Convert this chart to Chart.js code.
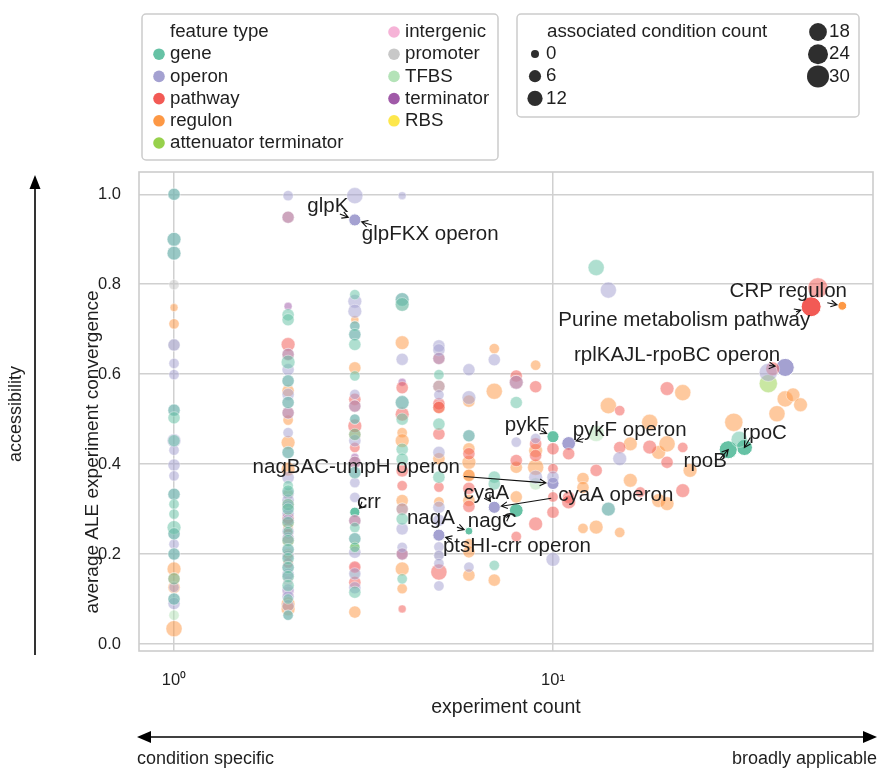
<!DOCTYPE html>
<html lang="en">
<head>
<meta charset="UTF-8">
<title>Feature accessibility vs experiment count</title>
<script src="https://cdn.jsdelivr.net/npm/chart.js"></script>
<style>
  html, body { margin: 0; padding: 0; background: #fff; }
  canvas { display: block; }
</style>
</head>
<body>
<canvas id="featureChart" width="877" height="769"></canvas>
<script>
// feature types in legend order, with their colours
const featureTypes = ['gene', 'operon', 'pathway', 'regulon', 'attenuator terminator',
  'intergenic', 'promoter', 'TFBS', 'terminator', 'RBS'];
const typeColors = ['#66c2a5', '#a4a1d1', '#f25a55', '#fd9845', '#97d14c',
  '#f6b3d7', '#c8c8c8', '#b4e3b8', '#a05aa8', '#fde74c'];

// each point: [experiment count, average ALE experiment convergence, associated condition count]
const genePoints = [
  [1, 1.0, 6], [1, 0.90, 9], [1, 0.869, 9], [1, 0.52, 6], [1, 0.503, 6], [1, 0.452, 6],
  [1, 0.333, 6], [1, 0.311, 3], [1, 0.289, 3], [1, 0.259, 9], [1, 0.245, 6], [1, 0.20, 6],
  [1, 0.145, 6], [1, 0.10, 6],
  [2, 0.732, 6], [2, 0.721, 6], [2, 0.627, 9], [2, 0.585, 6], [2, 0.537, 6], [2, 0.426, 6],
  [2, 0.352, 3], [2, 0.34, 6], [2, 0.31, 6], [2, 0.30, 6], [2, 0.27, 6], [2, 0.25, 3], [2, 0.23, 6],
  [2, 0.21, 6], [2, 0.19, 6], [2, 0.17, 6], [2, 0.15, 6], [2, 0.13, 6], [2, 0.10, 3], [2, 0.064, 3],
  [3, 0.777, 3], [3, 0.707, 3], [3, 0.688, 6], [3, 0.666, 6], [3, 0.596, 3], [3, 0.50, 3],
  [3, 0.466, 6], [3, 0.381, 6], [3, 0.259, 3], [3, 0.234, 6], [3, 0.215, 3], [3, 0.115, 6],
  [4, 0.766, 9], [4, 0.755, 9], [4, 0.537, 9], [4, 0.50, 6], [4, 0.433, 6], [4, 0.411, 6],
  [4, 0.278, 6], [4, 0.145, 3],
  [5, 0.599, 3], [5, 0.489, 6], [5, 0.371, 6],
  [6, 0.463, 6], [7, 0.371, 6], [7, 0.356, 6], [7, 0.175, 3], [8, 0.537, 6],
  [13, 0.837, 14], [14, 0.30, 9], [31, 0.455, 14]
];
const operonPoints = [
  [1, 1.0, 6], [1, 0.90, 9], [1, 0.869, 9], [1, 0.665, 6], [1, 0.624, 3], [1, 0.599, 3],
  [1, 0.52, 6], [1, 0.452, 9], [1, 0.431, 3], [1, 0.398, 6], [1, 0.374, 3], [1, 0.333, 6],
  [1, 0.245, 6], [1, 0.222, 3], [1, 0.20, 6], [1, 0.126, 3], [1, 0.10, 6], [1, 0.09, 6],
  [2, 0.997, 3], [2, 0.949, 6], [2, 0.644, 6], [2, 0.61, 6], [2, 0.585, 6], [2, 0.555, 6],
  [2, 0.537, 6], [2, 0.514, 6], [2, 0.47, 3], [2, 0.426, 6], [2, 0.37, 6], [2, 0.335, 6],
  [2, 0.32, 6], [2, 0.305, 6], [2, 0.29, 6], [2, 0.275, 6], [2, 0.25, 6], [2, 0.235, 6],
  [2, 0.21, 6], [2, 0.195, 6], [2, 0.17, 6], [2, 0.155, 6], [2, 0.12, 6], [2, 0.105, 6],
  [2, 0.085, 6], [2, 0.064, 3],
  [3, 0.997, 14], [3, 0.762, 9], [3, 0.74, 9], [3, 0.707, 3], [3, 0.688, 6], [3, 0.555, 3],
  [3, 0.529, 6], [3, 0.50, 3], [3, 0.452, 6], [3, 0.404, 6], [3, 0.381, 6], [3, 0.359, 3],
  [3, 0.326, 3], [3, 0.274, 6], [3, 0.234, 6], [3, 0.204, 6], [3, 0.156, 6], [3, 0.125, 6],
  [4, 0.997, 0], [4, 0.766, 9], [4, 0.633, 6], [4, 0.537, 9], [4, 0.30, 6], [4, 0.256, 6],
  [4, 0.215, 3], [4, 0.20, 6],
  [5, 0.663, 6], [5, 0.654, 6], [5, 0.635, 6], [5, 0.573, 6], [5, 0.554, 3], [5, 0.426, 6],
  [5, 0.304, 6], [5, 0.275, 6], [5, 0.216, 3], [5, 0.197, 3], [5, 0.179, 3], [5, 0.129, 3],
  [6, 0.61, 6], [6, 0.548, 9], [6, 0.463, 6], [6, 0.171, 3], [7, 0.632, 6],
  [8, 0.582, 9], [8, 0.449, 3], [9, 0.457, 3], [9, 0.371, 9], [10, 0.371, 6], [10, 0.188, 9],
  [14, 0.787, 14], [14, 0.30, 9], [15, 0.412, 9], [37, 0.604, 19]
];
const pathwayPoints = [
  [2, 0.949, 6], [2, 0.666, 9], [2, 0.644, 6], [2, 0.514, 6], [2, 0.28, 6], [2, 0.245, 3],
  [2, 0.18, 3],
  [3, 0.544, 6], [3, 0.529, 6], [3, 0.485, 9], [3, 0.437, 3], [3, 0.404, 6], [3, 0.274, 6],
  [3, 0.171, 6], [3, 0.137, 6],
  [4, 0.57, 6], [4, 0.511, 9], [4, 0.385, 6], [4, 0.352, 3], [4, 0.20, 6], [4, 0.078, 0],
  [5, 0.635, 6], [5, 0.534, 6], [5, 0.526, 6], [5, 0.467, 6], [5, 0.349, 3], [5, 0.16, 14],
  [6, 0.423, 6], [6, 0.346, 6], [6, 0.306, 6],
  [8, 0.596, 6], [8, 0.582, 9], [8, 0.408, 6], [8, 0.239, 3],
  [9, 0.572, 6], [9, 0.445, 6], [9, 0.419, 6], [9, 0.267, 9],
  [10, 0.434, 6], [10, 0.39, 3], [10, 0.327, 3], [10, 0.293, 6],
  [11, 0.423, 6], [11, 0.326, 6], [11, 0.316, 9],
  [13, 0.386, 6], [15, 0.519, 3], [15, 0.437, 6], [17, 0.338, 3], [18, 0.438, 9],
  [20, 0.568, 9], [20, 0.404, 6], [22, 0.437, 3], [22, 0.341, 9], [38, 0.612, 9], [50, 0.792, 24]
];
const regulonPoints = [
  [1, 0.748, 0], [1, 0.712, 3], [1, 0.167, 9], [1, 0.145, 6], [1, 0.126, 6], [1, 0.034, 14],
  [2, 0.563, 6], [2, 0.498, 3], [2, 0.448, 9], [2, 0.389, 9], [2, 0.31, 6], [2, 0.27, 6],
  [2, 0.26, 3], [2, 0.23, 6], [2, 0.20, 3], [2, 0.089, 9], [2, 0.078, 9],
  [3, 0.721, 0], [3, 0.614, 6], [3, 0.466, 6], [3, 0.071, 6],
  [4, 0.67, 9], [4, 0.47, 3], [4, 0.452, 9], [4, 0.319, 6], [4, 0.30, 6], [4, 0.167, 9], [4, 0.123, 3],
  [5, 0.573, 6], [5, 0.526, 6], [5, 0.412, 6], [5, 0.316, 3],
  [6, 0.54, 6], [6, 0.434, 6], [6, 0.404, 9], [6, 0.375, 6], [6, 0.375, 6], [6, 0.319, 6],
  [6, 0.223, 3], [6, 0.205, 6], [6, 0.153, 6],
  [7, 0.657, 3], [7, 0.562, 14], [7, 0.142, 6],
  [8, 0.393, 6], [8, 0.327, 6],
  [9, 0.62, 3], [9, 0.43, 9], [9, 0.393, 14],
  [12, 0.368, 6], [12, 0.348, 6], [12, 0.257, 3], [13, 0.26, 9], [14, 0.53, 14], [15, 0.248, 3],
  [16, 0.445, 9], [16, 0.364, 9], [18, 0.493, 14], [19, 0.426, 9], [19, 0.319, 9], [20, 0.445, 14],
  [20, 0.312, 9], [22, 0.559, 14], [23, 0.386, 9], [30, 0.493, 19], [39, 0.512, 14],
  [41, 0.545, 14], [43, 0.554, 9], [45, 0.532, 9]
];
const attenuatorPoints = [[2, 0.333, 3], [3, 0.215, 3], [37, 0.579, 19]];
const intergenicPoints = [[2, 0.14, 3], [2, 0.115, 6], [3, 0.171, 3], [4, 0.20, 3]];
const promoterPoints = [[1, 0.799, 3], [1, 0.665, 6], [2, 0.15, 6], [2, 0.20, 6], [4, 0.755, 9], [5, 0.197, 3]];
const tfbsPoints = [[1, 0.064, 3], [13, 0.468, 14], [9, 0.356, 6], [3, 0.156, 3]];
const terminatorPoints = [[2, 0.751, 0], [3, 0.415, 0], [4, 0.582, 0]];
const rbsPoints = [[3, 0.22, 0]];
const pointsByType = [genePoints, operonPoints, pathwayPoints, regulonPoints, attenuatorPoints,
  intergenicPoints, promoterPoints, tfbsPoints, terminatorPoints, rbsPoints];

// labelled features, drawn opaque on top
const labeledNames = ['glpK', 'glpFKX operon', 'CRP regulon', 'Purine metabolism pathway',
  'rplKAJL-rpoBC operon', 'pykF', 'pykF operon', 'rpoC', 'rpoB', 'nagBAC-umpH operon',
  'crr', 'cyaA', 'cyaA operon', 'nagA', 'nagC', 'ptsHI-crr operon'];
const labeledTypes = ['gene', 'operon', 'regulon', 'pathway', 'operon', 'gene', 'operon', 'gene',
  'gene', 'operon', 'gene', 'gene', 'operon', 'gene', 'gene', 'operon'];
const labeledExperiments = [3, 3, 58, 48, 41, 10, 11, 32, 29, 10, 3, 7, 7, 6, 8, 5];
const labeledConvergence = [0.943, 0.943, 0.752, 0.75, 0.615, 0.461, 0.446, 0.437, 0.432,
  0.357, 0.293, 0.304, 0.304, 0.251, 0.297, 0.242];
const labeledConditions = [6, 6, 1, 24, 19, 6, 9, 14, 19, 6, 3, 6, 6, 0, 9, 6];

const sizeLegendCounts = [0, 6, 12, 18, 24, 30];
const yTicks = [0, 0.2, 0.4, 0.6, 0.8, 1.0];
const xTicks = [1, 10];
const xTickLabels = ['10\u2070', '10\u00b9'];

// ---- styling / layout ----
const FONT = '"Liberation Sans", Arial, Helvetica, sans-serif';
const TEXT = '#1f1f1f';
const radiusFor = c => Math.sqrt(16 + 3.5 * c);

function rgba(hex, a) {
  const n = parseInt(hex.slice(1), 16);
  return `rgba(${n >> 16}, ${(n >> 8) & 255}, ${n & 255}, ${a})`;
}

// text anchor offset from the point [dx, dy, align], arrow tail offset [tx, ty]
const labelOffsets = {
  'glpK': [-27, -14, 'center', -15, -6],
  'glpFKX operon': [7, 14, 'left', 17, 5],
  'CRP regulon': [-54, -14, 'center', -15, -3],
  'Purine metabolism pathway': [-1, 14, 'right', -15, 5],
  'rplKAJL-rpoBC operon': [-5, -12, 'right', -16, -2],
  'pykF': [-26, -11, 'center', -12, -6],
  'pykF operon': [4, -13, 'left', 15, -5],
  'rpoC': [-2, -14, 'left', 6, -10],
  'rpoB': [-23, 12, 'center', -8, 9],
  'nagBAC-umpH operon': [-93, -16, 'right', -89, -7],
  'crr': [14, -10, 'center', 7, -6],
  'cyaA': [-8, -14, 'center', -6, -9],
  'cyaA operon': [64, -12, 'left', 57, -9],
  'nagA': [-38, -13, 'center', -12, -4],
  'nagC': [-24, 11, 'center', -10, 7],
  'ptsHI-crr operon': [4, 11, 'left', 13, 4]
};

const datasets = pointsByType.map((pts, i) => ({
  label: featureTypes[i],
  data: pts.map(([x, y, c]) => ({ x, y, c })),
  backgroundColor: rgba(typeColors[i], 0.52),
  borderColor: 'rgba(255,255,255,0.5)',
  borderWidth: 0.8,
  pointRadius: ctx => radiusFor(ctx.raw ? ctx.raw.c : 0)
}));
datasets.push({
  label: 'labelled',
  data: labeledNames.map((name, i) => ({
    x: labeledExperiments[i], y: labeledConvergence[i], c: labeledConditions[i], name, t: labeledTypes[i]
  })),
  backgroundColor: ctx => ctx.raw ? typeColors[featureTypes.indexOf(ctx.raw.t)] : '#000',
  borderColor: '#ffffff',
  borderWidth: 1,
  pointRadius: ctx => radiusFor(ctx.raw ? ctx.raw.c : 0)
});

function arrowLine(ctx, x0, y0, x1, y1, head) {
  const ang = Math.atan2(y1 - y0, x1 - x0);
  ctx.beginPath();
  ctx.moveTo(x0, y0);
  ctx.lineTo(x1, y1);
  ctx.moveTo(x1 - head * Math.cos(ang - 0.5), y1 - head * Math.sin(ang - 0.5));
  ctx.lineTo(x1, y1);
  ctx.lineTo(x1 - head * Math.cos(ang + 0.5), y1 - head * Math.sin(ang + 0.5));
  ctx.stroke();
}

function filledHead(ctx, tipX, tipY, ang, len, half) {
  ctx.beginPath();
  ctx.moveTo(tipX, tipY);
  ctx.lineTo(tipX - len * Math.cos(ang) + half * Math.sin(ang), tipY - len * Math.sin(ang) - half * Math.cos(ang));
  ctx.lineTo(tipX - len * Math.cos(ang) - half * Math.sin(ang), tipY - len * Math.sin(ang) + half * Math.cos(ang));
  ctx.closePath();
  ctx.fill();
}

function roundBox(ctx, x, y, w, h, r) {
  ctx.beginPath();
  ctx.roundRect(x, y, w, h, r);
  ctx.fillStyle = 'rgba(255,255,255,0.9)';
  ctx.fill();
  ctx.strokeStyle = '#cccccc';
  ctx.lineWidth = 1.5;
  ctx.stroke();
}

const decorations = {
  id: 'decorations',
  beforeDatasetsDraw(chart) {
    const { ctx, chartArea: a } = chart;
    ctx.save();
    ctx.strokeStyle = '#cccccc';
    ctx.lineWidth = 1.6;
    ctx.strokeRect(a.left, a.top, a.right - a.left, a.bottom - a.top);
    ctx.restore();
  },
  afterDatasetsDraw(chart) {
    const { ctx, scales: { x, y } } = chart;
    ctx.save();
    ctx.font = `20.5px ${FONT}`;
    ctx.textBaseline = 'middle';
    ctx.fillStyle = TEXT;
    ctx.strokeStyle = '#111';
    ctx.lineWidth = 1.1;
    labeledNames.forEach((name, i) => {
      const px = x.getPixelForValue(labeledExperiments[i]);
      const py = y.getPixelForValue(labeledConvergence[i]);
      const [dx, dy, align, tx, ty] = labelOffsets[name];
      ctx.textAlign = align;
      ctx.fillText(name, px + dx, py + dy);
      const r = radiusFor(labeledConditions[i]) + 1;
      const d = Math.hypot(tx, ty);
      const s = d > r + 3 ? r / d : 0;
      arrowLine(ctx, px + tx, py + ty, px + tx * s, py + ty * s, 7);
    });
    ctx.restore();
  },
  afterDraw(chart) {
    const { ctx } = chart;
    ctx.save();
    ctx.fillStyle = TEXT;
    ctx.strokeStyle = '#000';

    // y axis title
    ctx.font = `19px ${FONT}`;
    ctx.textAlign = 'center';
    ctx.textBaseline = 'middle';
    ctx.save();
    ctx.translate(93, 452);
    ctx.rotate(-Math.PI / 2);
    ctx.fillText('average ALE experiment convergence', 0, 0);
    ctx.restore();

    // accessibility arrow
    ctx.lineWidth = 1.6;
    ctx.fillStyle = '#000';
    ctx.beginPath(); ctx.moveTo(35, 186); ctx.lineTo(35, 655); ctx.stroke();
    filledHead(ctx, 35, 175, -Math.PI / 2, 14, 5.5);
    ctx.fillStyle = TEXT;
    ctx.font = `18px ${FONT}`;
    ctx.save();
    ctx.translate(16, 414);
    ctx.rotate(-Math.PI / 2);
    ctx.fillText('accessibility', 0, 0);
    ctx.restore();

    // condition specific <-> broadly applicable
    ctx.fillStyle = '#000';
    ctx.beginPath(); ctx.moveTo(148, 737); ctx.lineTo(866, 737); ctx.stroke();
    filledHead(ctx, 137, 737, Math.PI, 14, 6);
    filledHead(ctx, 877, 737, 0, 14, 6);
    ctx.fillStyle = TEXT;
    ctx.font = `18px ${FONT}`;
    ctx.textAlign = 'left';
    ctx.fillText('condition specific', 137, 759);
    ctx.textAlign = 'right';
    ctx.fillText('broadly applicable', 877, 759);

    // feature type legend
    roundBox(ctx, 142, 14, 356, 146, 4);
    ctx.font = `18.7px ${FONT}`;
    ctx.textAlign = 'left';
    ctx.fillStyle = TEXT;
    ctx.fillText('feature type', 170, 32);
    featureTypes.forEach((t, i) => {
      const left = i < 5;
      const row = left ? i + 1 : i - 5;
      const cx = left ? 159 : 394;
      const cy = 32 + row * 22.2;
      ctx.beginPath();
      ctx.arc(cx, cy, 5.8, 0, Math.PI * 2);
      ctx.fillStyle = typeColors[i];
      ctx.fill();
      ctx.fillStyle = TEXT;
      ctx.fillText(t, cx + 11, cy);
    });

    // condition count legend
    roundBox(ctx, 517, 14, 342, 103, 4);
    ctx.fillStyle = TEXT;
    ctx.fillText('associated condition count', 547, 32);
    sizeLegendCounts.forEach((c, i) => {
      const left = i < 3;
      const cx = left ? 535 : 818;
      const cy = left ? 54 + i * 22.2 : 32 + (i - 3) * 22.2;
      ctx.beginPath();
      ctx.arc(cx, cy, radiusFor(c), 0, Math.PI * 2);
      ctx.fillStyle = '#2e2e2e';
      ctx.fill();
      ctx.fillStyle = TEXT;
      ctx.fillText(String(c), left ? 546 : 829, cy);
    });
    ctx.restore();
  }
};

new Chart(document.getElementById('featureChart'), {
  type: 'scatter',
  data: { datasets },
  options: {
    responsive: false,
    animation: false,
    devicePixelRatio: 1,
    events: [],
    layout: { autoPadding: false, padding: { left: 80, top: 172, right: 4, bottom: 48 } },
    plugins: { legend: { display: false }, tooltip: { enabled: false } },
    scales: {
      x: {
        type: 'logarithmic',
        min: 0.8083,
        max: 69.9,
        afterBuildTicks: s => { s.ticks = xTicks.map(v => ({ value: v })); },
        afterFit: s => { s.height = 70; },
        ticks: {
          callback: (v, i) => xTickLabels[i],
          autoSkip: false, maxRotation: 0, padding: 20,
          color: TEXT, font: { family: FONT, size: 16.5 }
        },
        grid: { color: '#d0d0d0', lineWidth: 1.5, drawTicks: false },
        border: { display: false },
        title: {
          display: true, text: 'experiment count', color: TEXT,
          font: { family: FONT, size: 19.5 }, padding: { top: 0, bottom: 2 }
        }
      },
      y: {
        min: -0.0156,
        max: 1.0496,
        afterBuildTicks: s => { s.ticks = yTicks.map(v => ({ value: v })); },
        afterFit: s => { s.width = 59; },
        ticks: {
          callback: v => v.toFixed(1),
          padding: 18, color: TEXT, font: { family: FONT, size: 16.5 }
        },
        grid: { color: '#d0d0d0', lineWidth: 1.5, drawTicks: false },
        border: { display: false }
      }
    }
  },
  plugins: [decorations]
});
</script>
</body>
</html>
